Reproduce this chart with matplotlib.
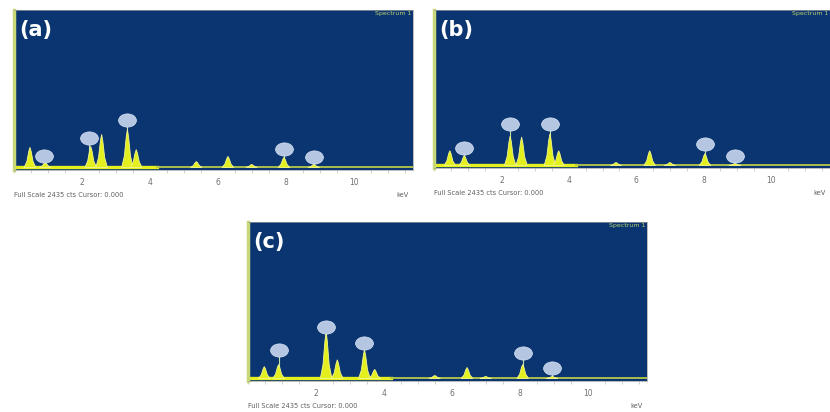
import numpy as np
import matplotlib
matplotlib.use("Agg")
import matplotlib.pyplot as plt
from matplotlib.markers import MarkerStyle
from matplotlib.transforms import Affine2D

W, H = 830, 412
NAVY = "#0b3571"
YELLOW = "#e4ef1e"
MARK = "#b4c6e2"

TICKS = [2, 4, 6, 8, 10]
FOOTER = "Full Scale 2435 cts Cursor: 0.000"

# peak positions (keV) and heights (counts)
kev_a = [0.47, 0.92, 2.26, 2.58, 3.34, 3.60, 5.37, 6.30, 7.00, 7.95, 8.83]
cts_a = [310, 75, 325, 510, 585, 275, 90, 170, 45, 155, 45]
mark_kev_a = [0.88, 2.20, 3.34, 7.95, 8.83]
mark_cts_a = [170, 460, 740, 290, 155]

kev_b = [0.47, 0.90, 2.26, 2.60, 3.44, 3.70, 5.40, 6.40, 7.00, 8.04, 8.93]
cts_b = [230, 155, 460, 445, 495, 230, 45, 230, 45, 185, 30]
mark_kev_b = [0.90, 2.26, 3.44, 8.04, 8.93]
mark_cts_b = [275, 645, 645, 340, 155]

kev_c = [0.48, 0.90, 2.30, 2.63, 3.43, 3.73, 5.50, 6.45, 7.00, 8.09, 8.96]
cts_c = [185, 215, 725, 290, 445, 140, 45, 170, 30, 215, 30]
mark_kev_c = [0.90, 2.30, 3.43, 8.09, 8.96]
mark_cts_c = [445, 800, 555, 400, 170]

# axes boxes in pixels: left, top, right, bottom
BOX_A = (14, 10, 413, 170)
BOX_B = (434, 10, 830, 168)
BOX_C = (248, 222, 647, 381)


def add_panel(fig, box, label, kev, cts, mkev, mcts):
    l, t, r, b = box
    ax = fig.add_axes([l / W, 1 - b / H, (r - l) / W, (b - t) / H])
    ax.set_facecolor(NAVY)
    ax.set_xlim(0, 11.75)
    ax.set_ylim(-40, 2435)

    # each peak drawn as a spike with a broad foot
    for x, y in zip(kev, cts):
        ax.fill([x - 0.17, x - 0.09, x - 0.035, x, x + 0.035, x + 0.09, x + 0.17],
                [0, y * 0.3, y * 0.8, y, y * 0.8, y * 0.3, 0], color=YELLOW,
                lw=0.6, ec="#f4f890", zorder=3)
    ax.plot([0, 4.2], [0, 0], color=YELLOW, lw=2.4, zorder=2)
    ax.plot([4.2, 11.75], [0, 0], color="#b8c84a", lw=1.3, zorder=2)

    # thin stems under the peak label markers
    ax.vlines(mkev, 0, mcts, color="#c8dca8", lw=0.8, zorder=2.5)
    mk = MarkerStyle("o", transform=Affine2D().scale(1.35, 1.0))
    ax.plot(mkev, mcts, ls="none", marker=mk, ms=9.5, mfc=MARK, mec="#d8e4f4",
            mew=0.5, zorder=4)

    ax.set_xticks(TICKS)
    ax.set_xticklabels([str(v) for v in TICKS])
    ax.set_xticks(np.arange(0, 11.8, 0.5), minor=True)
    ax.tick_params(axis="x", which="major", length=0, pad=6, labelsize=5.5,
                   labelcolor="#707070")
    ax.tick_params(axis="x", which="minor", length=2, color="#c8c8c8",
                   direction="out")
    ax.set_yticks([])
    for s in ("top", "right", "bottom"):
        ax.spines[s].set_color("#a0a0a0")
        ax.spines[s].set_linewidth(0.5)
    ax.spines["left"].set_color("#c8d878")
    ax.spines["left"].set_linewidth(2.5)

    ax.text(0.012, 0.935, label, transform=ax.transAxes, ha="left", va="top",
            color="white", fontsize=15, fontweight="bold")
    ax.text(0.995, 0.995, "Spectrum 1", transform=ax.transAxes, ha="right",
            va="top", color="#b8d070", fontsize=4.5)

    # footer line under the axis
    fy = 1 - (b + 25) / H
    fig.text(l / W, fy, FOOTER, ha="left", va="center", fontsize=4.8,
             color="#606060")
    fig.text((r - 4) / W, fy, "keV", ha="right", va="center", fontsize=4.8,
             color="#606060")
    return ax


fig = plt.figure(figsize=(W / 100, H / 100), dpi=100)
fig.patch.set_facecolor("white")

add_panel(fig, BOX_A, "(a)", kev_a, cts_a, mark_kev_a, mark_cts_a)
add_panel(fig, BOX_B, "(b)", kev_b, cts_b, mark_kev_b, mark_cts_b)
add_panel(fig, BOX_C, "(c)", kev_c, cts_c, mark_kev_c, mark_cts_c)

fig.savefig("out.png", dpi=100)
